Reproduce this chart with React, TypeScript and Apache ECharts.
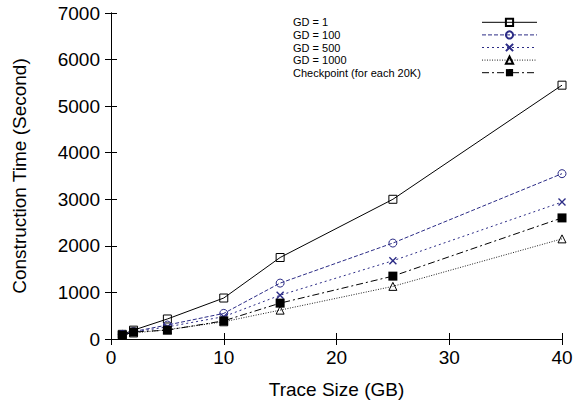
import React, { useEffect, useRef } from "react";
import * as echarts from "echarts";

const traceSizes = [1, 2, 5, 10, 15, 25, 40];
const gd1 = [100, 190, 430, 880, 1750, 3000, 5450];
const gd100 = [100, 160, 300, 550, 1200, 2060, 3550];
const gd500 = [90, 150, 260, 480, 940, 1680, 2940];
const gd1000 = [80, 130, 200, 370, 620, 1130, 2150];
const checkpoint = [80, 150, 190, 390, 770, 1350, 2600];
const seriesNames = ["GD = 1", "GD = 100", "GD = 500", "GD = 1000", "Checkpoint (for each 20K)"];
const xTicks = [0, 10, 20, 30, 40];
const yTicks = [0, 1000, 2000, 3000, 4000, 5000, 6000, 7000];

const NAVY = "#2c2c86";
const FONT = "Liberation Sans, Arial, Helvetica, sans-serif";

function pairs(vals: number[]) {
  return traceSizes.map((x, i) => [x, vals[i]]);
}

export default function App() {
  const ref = useRef<HTMLDivElement>(null);
  useEffect(() => {
    if (!ref.current) return;
    const chart = echarts.init(ref.current, null, { renderer: "svg" });
    const axisCommon = {
      axisLine: { show: true, lineStyle: { color: "#000", width: 1 } },
      axisTick: { show: true, inside: true, length: 6, lineStyle: { color: "#000" } },
      splitLine: { show: false },
    };
    chart.setOption({
      animation: false,
      backgroundColor: "#fff",
      textStyle: { fontFamily: FONT },
      grid: { left: 111, right: 14, top: 13, bottom: 63 },
      legend: {
        orient: "vertical",
        left: 293,
        top: 16,
        padding: 0,
        align: "right",
        itemWidth: 55,
        itemHeight: 9,
        itemGap: 0,
        lineStyle: { width: 1 },
        data: seriesNames,
        formatter: (name: string) => "{t|" + name + "}",
        textStyle: {
          fontFamily: FONT,
          fontSize: 11,
          lineHeight: 12.6,
          color: "#000",
          rich: {
            t: { width: 184, lineHeight: 12.6, align: "left", fontSize: 11, fontFamily: FONT, color: "#000" },
          },
        },
      },
      xAxis: [
        {
          type: "value",
          min: xTicks[0],
          max: xTicks[xTicks.length - 1],
          interval: 10,
          name: "Trace Size (GB)",
          nameLocation: "middle",
          nameGap: 41,
          nameTextStyle: { fontSize: 19, color: "#000", fontFamily: FONT },
          axisLabel: { fontSize: 19, color: "#000", margin: 9, fontFamily: FONT },
          ...axisCommon,
        },
        {
          type: "value",
          position: "top",
          min: xTicks[0],
          max: xTicks[xTicks.length - 1],
          interval: 10,
          axisLabel: { show: false },
          ...axisCommon,
        },
      ],
      yAxis: [
        {
          type: "value",
          min: yTicks[0],
          max: yTicks[yTicks.length - 1],
          interval: 1000,
          name: "Construction Time (Second)",
          nameLocation: "middle",
          nameGap: 82,
          nameTextStyle: { fontSize: 19, color: "#000", fontFamily: FONT },
          axisLabel: {
            fontSize: 19,
            color: "#000",
            margin: 11,
            fontFamily: FONT,
            formatter: (v: number) => String(v),
          },
          ...axisCommon,
        },
        {
          type: "value",
          position: "right",
          min: yTicks[0],
          max: yTicks[yTicks.length - 1],
          interval: 1000,
          axisLabel: { show: false },
          ...axisCommon,
        },
      ],
      series: [
        {
          name: seriesNames[0],
          type: "line",
          data: pairs(gd1),
          symbol: "rect",
          symbolSize: 8,
          lineStyle: { color: "#000", width: 1, type: "solid" },
          itemStyle: { color: "none", borderColor: "#000", borderWidth: 1 },
        },
        {
          name: seriesNames[1],
          type: "line",
          data: pairs(gd100),
          symbol: "circle",
          symbolSize: 8,
          lineStyle: { color: NAVY, width: 1, type: [4, 2] },
          itemStyle: { color: "none", borderColor: NAVY, borderWidth: 1 },
        },
        {
          name: seriesNames[2],
          type: "line",
          data: pairs(gd500),
          symbol: "path://M0,0L10,10M10,0L0,10",
          symbolSize: 7,
          lineStyle: { color: NAVY, width: 1, type: [2, 3] },
          itemStyle: { color: "none", borderColor: NAVY, borderWidth: 1.4 },
        },
        {
          name: seriesNames[3],
          type: "line",
          data: pairs(gd1000),
          symbol: "triangle",
          symbolSize: 8,
          lineStyle: { color: "#222", width: 1, type: [1, 1.5] },
          itemStyle: { color: "none", borderColor: "#000", borderWidth: 1 },
        },
        {
          name: seriesNames[4],
          type: "line",
          data: pairs(checkpoint),
          symbol: "rect",
          symbolSize: 9,
          lineStyle: { color: "#000", width: 1, type: [7, 3, 2, 3] },
          itemStyle: { color: "#000", borderColor: "#000", borderWidth: 0 },
        },
      ],
    });
    return () => chart.dispose();
  }, []);
  return (
    <div
      ref={ref}
      style={{ position: "fixed", left: 0, top: 0, width: 576, height: 404, background: "#fff" }}
    />
  );
}
